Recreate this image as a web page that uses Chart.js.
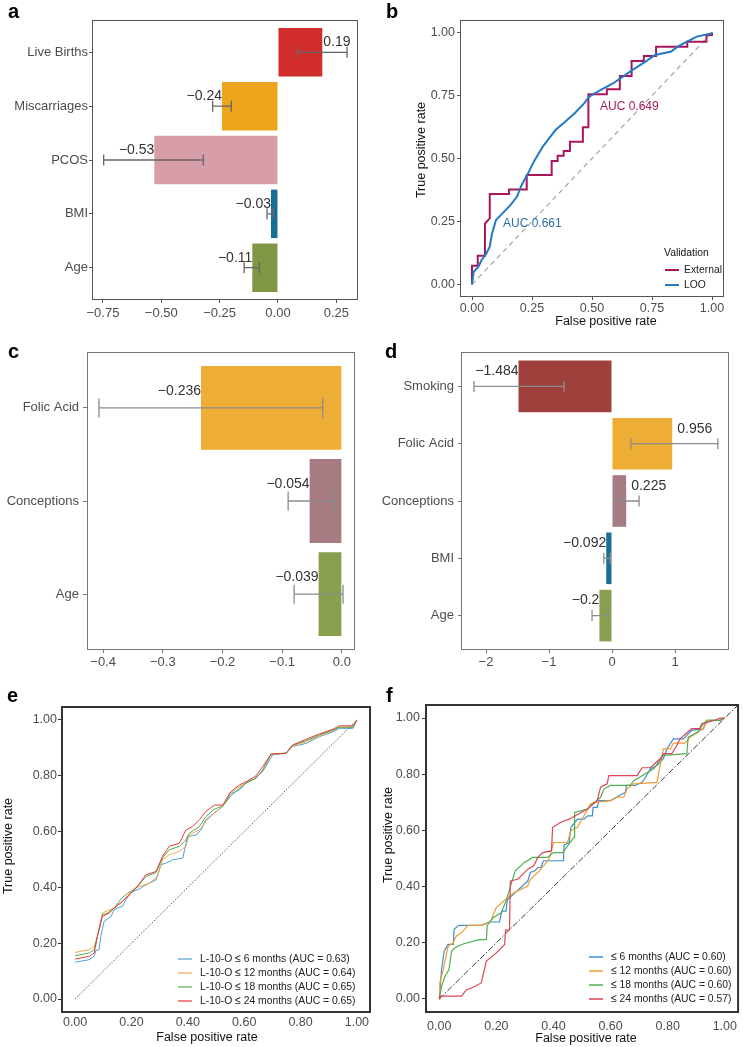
<!DOCTYPE html>
<html>
<head>
<meta charset="utf-8">
<script src="https://cdn.jsdelivr.net/npm/chart.js@4.4.1/dist/chart.umd.min.js"></script>
<style>
  body { margin: 0; background: #fff; }
  #page { position: relative; width: 743px; height: 1047px; overflow: hidden; font-family: "Liberation Sans", Arial, sans-serif; }
  canvas { position: absolute; }
  .tag { position: absolute; font-size: 20px; line-height: 20px; font-weight: bold; color: #000; }
</style>
</head>
<body>
<div id="page">
  <canvas id="chartA" width="372" height="330" style="left:0;top:0"></canvas>
  <canvas id="chartB" width="371" height="330" style="left:372px;top:0"></canvas>
  <canvas id="chartC" width="372" height="350" style="left:0;top:330px"></canvas>
  <canvas id="chartD" width="371" height="350" style="left:372px;top:330px"></canvas>
  <canvas id="chartE" width="372" height="367" style="left:0;top:680px"></canvas>
  <canvas id="chartF" width="371" height="367" style="left:372px;top:680px"></canvas>
  <div class="tag" style="left:8px;top:1px">a</div>
  <div class="tag" style="left:386px;top:1px">b</div>
  <div class="tag" style="left:8px;top:341px">c</div>
  <div class="tag" style="left:385px;top:341px">d</div>
  <div class="tag" style="left:7px;top:685px">e</div>
  <div class="tag" style="left:386px;top:685px">f</div>
</div>
<script>
// panel a: coefficients
const aCats = ['Live Births', 'Miscarriages', 'PCOS', 'BMI', 'Age'];
const aVals = [0.19, -0.24, -0.53, -0.03, -0.11];
const aLo = [0.085, -0.28, -0.747, -0.047, -0.145];
const aHi = [0.296, -0.2, -0.32, -0.02, -0.08];
const aColors = ['#D22D2D', '#EEA51E', '#D79EAA', '#176E96', '#7F9644'];
const aTicks = [-0.75, -0.5, -0.25, 0, 0.25];

// panel b: ROC, external vs leave-one-out
const extFpr = [0, 0, 0.024, 0.024, 0.054, 0.054, 0.074, 0.074, 0.154, 0.154, 0.228, 0.228, 0.332, 0.332, 0.357, 0.357, 0.382, 0.382, 0.408, 0.408, 0.462, 0.462, 0.485, 0.485, 0.562, 0.562, 0.616, 0.616, 0.665, 0.665, 0.716, 0.716, 0.767, 0.767, 0.897, 0.897, 0.977, 0.977, 1, 1];
const extTpr = [0, 0.074, 0.074, 0.114, 0.114, 0.242, 0.262, 0.359, 0.359, 0.377, 0.377, 0.434, 0.434, 0.49, 0.49, 0.511, 0.511, 0.53, 0.53, 0.567, 0.567, 0.624, 0.624, 0.755, 0.755, 0.775, 0.775, 0.828, 0.828, 0.887, 0.887, 0.907, 0.907, 0.944, 0.944, 0.964, 0.964, 0.99, 0.99, 1];
const looFpr = [0, 0.007, 0.027, 0.04, 0.06, 0.074, 0.083, 0.1, 0.127, 0.16, 0.187, 0.207, 0.234, 0.254, 0.274, 0.295, 0.321, 0.348, 0.388, 0.428, 0.468, 0.489, 0.535, 0.589, 0.629, 0.669, 0.723, 0.763, 0.83, 0.857, 0.91, 0.937, 1];
const looTpr = [0, 0.05, 0.07, 0.097, 0.123, 0.15, 0.2, 0.256, 0.282, 0.315, 0.348, 0.395, 0.441, 0.481, 0.514, 0.547, 0.58, 0.613, 0.646, 0.68, 0.72, 0.746, 0.772, 0.799, 0.825, 0.852, 0.885, 0.911, 0.925, 0.944, 0.971, 0.984, 0.997];

// panel c
const cCats = ['Folic Acid', 'Conceptions', 'Age'];
const cVals = [-0.236, -0.054, -0.039];
const cLo = [-0.407, -0.09, -0.08];
const cHi = [-0.032, -0.012, 0.002];
const cColors = ['#EEAD35', '#A67B82', '#889F50'];
const cTicks = [-0.4, -0.3, -0.2, -0.1, 0];

// panel d
const dCats = ['Smoking', 'Folic Acid', 'Conceptions', 'BMI', 'Age'];
const dVals = [-1.484, 0.956, 0.225, -0.092, -0.2];
const dLo = [-2.19, 0.3, 0.05, -0.13, -0.317];
const dHi = [-0.76, 1.68, 0.43, -0.027, -0.063];
const dColors = ['#9E403B', '#EEAD35', '#A67B82', '#1F6F95', '#889F50'];
const dTicks = [-2, -1, 0, 1];

// panel e: L-10-O ROC curves
const e6Fpr = [0, 0.05, 0.068, 0.073, 0.085, 0.091, 0.103, 0.127, 0.139, 0.15, 0.168, 0.18, 0.192, 0.204, 0.227, 0.251, 0.287, 0.304, 0.322, 0.346, 0.382, 0.399, 0.429, 0.447, 0.464, 0.5, 0.524, 0.553, 0.583, 0.606, 0.63, 0.666, 0.701, 0.749, 0.772, 0.82, 0.867, 0.915, 0.938, 0.986, 1];
const e6Tpr = [0.132, 0.141, 0.153, 0.173, 0.177, 0.224, 0.278, 0.296, 0.32, 0.326, 0.332, 0.356, 0.373, 0.385, 0.394, 0.409, 0.427, 0.481, 0.487, 0.499, 0.505, 0.582, 0.588, 0.606, 0.642, 0.672, 0.69, 0.737, 0.749, 0.773, 0.785, 0.815, 0.875, 0.881, 0.905, 0.916, 0.94, 0.958, 0.97, 0.97, 1];
const e12Fpr = [0, 0.05, 0.068, 0.079, 0.097, 0.115, 0.139, 0.156, 0.18, 0.204, 0.227, 0.263, 0.293, 0.31, 0.334, 0.37, 0.393, 0.405, 0.441, 0.464, 0.494, 0.524, 0.547, 0.583, 0.613, 0.642, 0.666, 0.695, 0.749, 0.772, 0.82, 0.867, 0.915, 0.938, 0.986, 1];
const e12Tpr = [0.167, 0.177, 0.189, 0.224, 0.308, 0.317, 0.326, 0.338, 0.362, 0.391, 0.403, 0.415, 0.439, 0.499, 0.517, 0.529, 0.547, 0.588, 0.606, 0.636, 0.666, 0.69, 0.737, 0.761, 0.779, 0.791, 0.821, 0.875, 0.881, 0.907, 0.922, 0.943, 0.961, 0.974, 0.974, 1];
const e18Fpr = [0, 0.05, 0.068, 0.079, 0.097, 0.115, 0.139, 0.162, 0.186, 0.204, 0.227, 0.251, 0.287, 0.31, 0.334, 0.37, 0.393, 0.405, 0.441, 0.464, 0.494, 0.524, 0.553, 0.583, 0.613, 0.642, 0.666, 0.695, 0.749, 0.772, 0.82, 0.867, 0.915, 0.938, 0.986, 1];
const e18Tpr = [0.155, 0.165, 0.177, 0.224, 0.302, 0.308, 0.326, 0.358, 0.379, 0.389, 0.409, 0.439, 0.453, 0.505, 0.535, 0.547, 0.57, 0.594, 0.618, 0.654, 0.68, 0.692, 0.728, 0.755, 0.779, 0.791, 0.821, 0.878, 0.881, 0.91, 0.926, 0.946, 0.964, 0.974, 0.974, 1];
const e24Fpr = [0, 0.05, 0.068, 0.079, 0.097, 0.121, 0.145, 0.168, 0.192, 0.216, 0.251, 0.287, 0.31, 0.334, 0.37, 0.393, 0.417, 0.441, 0.464, 0.494, 0.524, 0.553, 0.583, 0.613, 0.642, 0.666, 0.695, 0.749, 0.772, 0.82, 0.867, 0.915, 0.938, 0.986, 1];
const e24Tpr = [0.143, 0.153, 0.165, 0.224, 0.296, 0.308, 0.332, 0.35, 0.373, 0.397, 0.445, 0.457, 0.511, 0.547, 0.558, 0.606, 0.618, 0.642, 0.672, 0.695, 0.695, 0.743, 0.767, 0.782, 0.8, 0.833, 0.878, 0.881, 0.91, 0.931, 0.95, 0.967, 0.979, 0.979, 1];

// panel f
const f6Fpr = [0, 0.008, 0.017, 0.031, 0.049, 0.052, 0.068, 0.147, 0.176, 0.211, 0.219, 0.234, 0.238, 0.31, 0.319, 0.335, 0.345, 0.356, 0.365, 0.435, 0.437, 0.455, 0.461, 0.484, 0.507, 0.519, 0.536, 0.539, 0.553, 0.559, 0.6, 0.652, 0.656, 0.687, 0.71, 0.719, 0.739, 0.762, 0.785, 0.797, 0.82, 0.855, 0.884, 0.925, 0.936, 0.983, 1];
const f6Tpr = [0, 0.105, 0.17, 0.194, 0.194, 0.248, 0.262, 0.262, 0.274, 0.274, 0.313, 0.313, 0.352, 0.42, 0.45, 0.456, 0.468, 0.468, 0.492, 0.492, 0.548, 0.557, 0.611, 0.64, 0.64, 0.652, 0.652, 0.682, 0.682, 0.706, 0.706, 0.736, 0.76, 0.76, 0.771, 0.783, 0.819, 0.831, 0.855, 0.89, 0.926, 0.926, 0.956, 0.962, 0.992, 0.992, 1];
const f12Fpr = [0, 0.002, 0.014, 0.031, 0.049, 0.06, 0.078, 0.101, 0.147, 0.18, 0.188, 0.2, 0.24, 0.263, 0.31, 0.319, 0.345, 0.385, 0.4, 0.449, 0.461, 0.484, 0.507, 0.53, 0.542, 0.6, 0.623, 0.646, 0.658, 0.681, 0.762, 0.785, 0.809, 0.82, 0.861, 0.878, 0.907, 0.925, 0.936, 0.983, 1];
const f12Tpr = [0, 0.057, 0.105, 0.188, 0.2, 0.224, 0.236, 0.262, 0.262, 0.274, 0.298, 0.325, 0.361, 0.379, 0.402, 0.426, 0.45, 0.498, 0.557, 0.557, 0.599, 0.611, 0.652, 0.694, 0.7, 0.706, 0.718, 0.718, 0.748, 0.766, 0.771, 0.89, 0.89, 0.911, 0.911, 0.932, 0.952, 0.962, 0.992, 0.992, 1];
const f18Fpr = [0, 0.008, 0.02, 0.034, 0.043, 0.055, 0.078, 0.136, 0.165, 0.168, 0.188, 0.217, 0.234, 0.266, 0.298, 0.327, 0.379, 0.4, 0.432, 0.472, 0.474, 0.519, 0.53, 0.565, 0.577, 0.6, 0.669, 0.681, 0.751, 0.785, 0.867, 0.872, 0.907, 0.919, 0.948, 0.983, 1];
const f18Tpr = [0, 0.045, 0.081, 0.105, 0.17, 0.182, 0.194, 0.21, 0.212, 0.262, 0.289, 0.307, 0.349, 0.456, 0.486, 0.504, 0.504, 0.521, 0.521, 0.575, 0.664, 0.676, 0.688, 0.718, 0.748, 0.76, 0.76, 0.777, 0.819, 0.867, 0.873, 0.932, 0.95, 0.98, 0.992, 0.992, 1];
const f24Fpr = [0, 0.002, 0.078, 0.095, 0.113, 0.147, 0.165, 0.2, 0.229, 0.232, 0.246, 0.249, 0.275, 0.31, 0.331, 0.345, 0.362, 0.393, 0.397, 0.426, 0.455, 0.519, 0.553, 0.565, 0.588, 0.594, 0.693, 0.71, 0.739, 0.774, 0.785, 0.814, 0.832, 0.843, 0.884, 0.913, 0.925, 0.965, 0.983, 1];
const f24Tpr = [0, 0.01, 0.01, 0.033, 0.039, 0.057, 0.135, 0.164, 0.194, 0.245, 0.245, 0.42, 0.426, 0.462, 0.474, 0.504, 0.521, 0.527, 0.611, 0.629, 0.64, 0.676, 0.706, 0.754, 0.766, 0.795, 0.795, 0.823, 0.823, 0.855, 0.873, 0.873, 0.902, 0.926, 0.962, 0.962, 0.98, 0.992, 1, 1];

const rocTicks = [0, 0.25, 0.5, 0.75, 1];
const rocTicks5 = [0, 0.2, 0.4, 0.6, 0.8, 1];

Chart.defaults.font.family = '"Liberation Sans", Arial, sans-serif';
Chart.defaults.font.size = 13;
Chart.defaults.color = '#4d4d4d';
Chart.defaults.plugins.legend.display = false;
Chart.defaults.plugins.tooltip.enabled = false;

const FONT = '"Liberation Sans", Arial, sans-serif';
const minus = s => String(s).replace('-', '\u2212');

// border round the panel
const frame = (color, width) => ({
  id: 'frame',
  afterDraw(chart) {
    const { ctx, chartArea: a } = chart;
    const h = width / 2;
    ctx.save();
    ctx.strokeStyle = color;
    ctx.lineWidth = width;
    ctx.strokeRect(a.left + h, a.top + h, a.right - a.left - width, a.bottom - a.top - width);
    ctx.restore();
  }
});

const errbars = (lo, hi, cap, color) => ({
  id: 'errbars',
  afterDatasetsDraw(chart) {
    const { ctx, scales: { x, y } } = chart;
    ctx.save();
    ctx.strokeStyle = color;
    ctx.lineWidth = 1.3;
    lo.forEach((l, i) => {
      const py = y.getPixelForValue(i + 1);
      const x0 = x.getPixelForValue(l);
      const x1 = x.getPixelForValue(hi[i]);
      ctx.beginPath();
      ctx.moveTo(x0, py); ctx.lineTo(x1, py);
      ctx.moveTo(x0, py - cap / 2); ctx.lineTo(x0, py + cap / 2);
      ctx.moveTo(x1, py - cap / 2); ctx.lineTo(x1, py + cap / 2);
      ctx.stroke();
    });
    ctx.restore();
  }
});

const valueLabels = (vals, dy, gap) => ({
  id: 'valueLabels',
  afterDatasetsDraw(chart) {
    const { ctx, scales: { x, y } } = chart;
    ctx.save();
    ctx.font = '14px ' + FONT;
    ctx.fillStyle = '#333';
    ctx.textBaseline = 'middle';
    vals.forEach((v, i) => {
      const px = x.getPixelForValue(v);
      ctx.textAlign = v < 0 ? 'right' : 'left';
      ctx.fillText(minus(v), v < 0 ? px : px + gap, y.getPixelForValue(i + 1) + dy);
    });
    ctx.restore();
  }
});

// free text; sx squeezes it a little, the original face is narrower
const texts = items => ({
  id: 'texts',
  afterDraw(chart) {
    const ctx = chart.ctx;
    items.forEach(t => {
      ctx.save();
      ctx.font = (t.size || 12.5) + 'px ' + FONT;
      ctx.fillStyle = t.color || '#111';
      ctx.textAlign = t.align || 'center';
      ctx.textBaseline = 'middle';
      ctx.translate(t.x, t.y);
      if (t.rot) ctx.rotate(-Math.PI / 2);
      if (t.sx) ctx.scale(t.sx, 1);
      ctx.fillText(t.text, 0, 0);
      ctx.restore();
    });
  }
});

const lineLegend = (x, y, step, len, gap, lw, size) => ({
  id: 'lineLegend',
  afterDraw(chart) {
    const ctx = chart.ctx;
    ctx.save();
    ctx.font = size + 'px ' + FONT;
    ctx.textBaseline = 'middle';
    ctx.textAlign = 'left';
    chart.data.datasets.filter(d => d.label).forEach((d, k) => {
      const yy = y + k * step;
      ctx.strokeStyle = d.borderColor;
      ctx.lineWidth = lw;
      ctx.beginPath(); ctx.moveTo(x, yy); ctx.lineTo(x + len, yy); ctx.stroke();
      ctx.save();
      ctx.translate(x + len + gap, yy);
      ctx.scale(0.9, 1);
      ctx.fillStyle = '#222';
      ctx.fillText(d.label, 0, 0);
      ctx.restore();
    });
    ctx.restore();
  }
});

function barChart(id, cats, vals, lo, hi, colors, o) {
  return new Chart(document.getElementById(id), {
    type: 'bar',
    data: {
      datasets: [{
        data: vals.map((v, i) => ({ x: v, y: i + 1 })),
        backgroundColor: colors,
        barPercentage: 0.9,
        categoryPercentage: 1
      }]
    },
    options: {
      indexAxis: 'y',
      responsive: false,
      animation: false,
      devicePixelRatio: 1,
      layout: { padding: o.pad },
      scales: {
        x: {
          type: 'linear', min: o.min, max: o.max,
          afterBuildTicks: s => { s.ticks = o.ticks.map(v => ({ value: v })); },
          afterFit: s => { s.height = o.xh; },
          ticks: { callback: o.fmt, padding: o.xpad, autoSkip: false },
          grid: { drawOnChartArea: false, tickLength: 3, color: o.frame },
          border: { display: false }
        },
        y: {
          type: 'linear', reverse: true, min: 0.4, max: cats.length + 0.6, offset: false,
          afterBuildTicks: s => { s.ticks = cats.map((c, i) => ({ value: i + 1 })); },
          afterFit: s => { s.width = o.yw; },
          ticks: { callback: v => cats[v - 1], padding: o.ypad, autoSkip: false },
          grid: { offset: false, drawOnChartArea: false, tickLength: o.ytl, color: o.frame },
          border: { display: false }
        }
      }
    },
    plugins: [errbars(lo, hi, o.cap, o.err), valueLabels(vals, o.dy, o.gap), frame(o.frame, 1)]
  });
}

function rocChart(id, series, o) {
  const datasets = series.map((s, k) => ({
    label: s.label,
    data: s.fpr.map((f, i) => ({ x: f, y: s.tpr[i] })),
    borderColor: s.color,
    borderWidth: o.lw,
    pointRadius: 0,
    tension: 0,
    order: series.length - k
  }));
  datasets.push({
    data: o.diag.map(v => ({ x: v, y: v })),
    borderColor: o.diagColor, borderWidth: o.diagWidth, borderDash: o.dash,
    pointRadius: 0, order: 99
  });
  const fmt = v => v.toFixed(2);
  return new Chart(document.getElementById(id), {
    type: 'line',
    data: { datasets },
    options: {
      responsive: false,
      animation: false,
      devicePixelRatio: 1,
      layout: { padding: o.pad },
      scales: {
        x: {
          type: 'linear', min: -0.05, max: 1.05,
          afterBuildTicks: s => { s.ticks = o.ticks.map(v => ({ value: v })); },
          afterFit: s => { s.height = o.xh; },
          ticks: { callback: fmt, padding: o.xpad, autoSkip: false, maxRotation: 0, font: { size: 12.5 } },
          grid: { drawOnChartArea: false, drawTicks: o.xtl > 0, tickLength: o.xtl, color: o.frame },
          border: { display: false }
        },
        y: {
          type: 'linear', min: -0.05, max: 1.05,
          afterBuildTicks: s => { s.ticks = o.ticks.map(v => ({ value: v })); },
          afterFit: s => { s.width = o.yw; },
          ticks: { callback: fmt, padding: o.ypad, autoSkip: false, font: { size: 12.5 } },
          grid: { drawOnChartArea: false, tickLength: o.ytl, color: o.frame },
          border: { display: false }
        }
      }
    },
    plugins: [frame(o.frame, o.frameW), texts(o.texts), o.legend]
  });
}

barChart('chartA', aCats, aVals, aLo, aHi, aColors, {
  pad: { top: 20, right: 14, left: 0, bottom: 0 }, min: -0.797, max: 0.343, ticks: aTicks,
  fmt: v => minus(v.toFixed(2)), xh: 30, yw: 92, xpad: 3, ypad: 1, ytl: 3,
  frame: '#555', cap: 11, err: '#666', dy: -10, gap: 1
});

barChart('chartC', cCats, cVals, cLo, cHi, cColors, {
  pad: { top: 22, right: 17, left: 0, bottom: 0 }, min: -0.427, max: 0.022, ticks: cTicks,
  fmt: v => minus(v.toFixed(1)), xh: 30, yw: 87, xpad: 2, ypad: 4, ytl: 4,
  frame: '#777', cap: 19, err: '#8c8c8c', dy: -17, gap: 2
});

barChart('chartD', dCats, dVals, dLo, dHi, dColors, {
  pad: { top: 22, right: 14, left: 0, bottom: 0 }, min: -2.397, max: 1.857, ticks: dTicks,
  fmt: v => minus(v), xh: 30, yw: 89, xpad: 2, ypad: 4, ytl: 3,
  frame: '#777', cap: 11, err: '#8c8c8c', dy: -15, gap: 5
});

rocChart('chartB', [
  { label: 'External', fpr: extFpr, tpr: extTpr, color: '#A8175E' },
  { label: 'LOO', fpr: looFpr, tpr: looTpr, color: '#2479C4' }
], {
  pad: { top: 20, right: 19, left: 0, bottom: 0 }, yw: 88, xh: 33, ticks: rocTicks,
  xtl: 3, xpad: 1, ytl: 3, ypad: 2, frame: '#555', frameW: 1, lw: 2,
  diag: [0, 1], diagColor: '#AAAAAA', diagWidth: 1.3, dash: [5, 4],
  texts: [
    { text: 'True positive rate', x: 50, y: 150, rot: true },
    { text: 'False positive rate', x: 234, y: 322 },
    { text: 'AUC 0.649', x: 228, y: 107, size: 12, align: 'left', color: '#A8195D' },
    { text: 'AUC 0.661', x: 131, y: 224, size: 12, align: 'left', color: '#2B6EA8' },
    { text: 'Validation', x: 292, y: 253, size: 11.5, sx: 0.9, align: 'left' }
  ],
  legend: lineLegend(293, 270, 15, 14, 5, 2, 11.5)
});

rocChart('chartE', [
  { label: 'L-10-O \u2264 6 months (AUC = 0.63)', fpr: e6Fpr, tpr: e6Tpr, color: '#4F9ED8' },
  { label: 'L-10-O \u2264 12 months (AUC = 0.64)', fpr: e12Fpr, tpr: e12Tpr, color: '#F7A650' },
  { label: 'L-10-O \u2264 18 months (AUC = 0.65)', fpr: e18Fpr, tpr: e18Tpr, color: '#4DB04F' },
  { label: 'L-10-O \u2264 24 months (AUC = 0.65)', fpr: e24Fpr, tpr: e24Tpr, color: '#E63B3B' }
], {
  pad: { top: 26, right: 1, left: 0, bottom: 0 }, yw: 61, xh: 34, ticks: rocTicks5,
  xtl: 0, xpad: 2, ytl: 3, ypad: 1, frame: '#333', frameW: 2, lw: 1,
  diag: [0, 1], diagColor: '#333', diagWidth: 0.8, dash: [1.5, 1.5],
  texts: [
    { text: 'True positive rate', x: 9, y: 166, rot: true },
    { text: 'False positive rate', x: 207, y: 358 }
  ],
  legend: lineLegend(178, 279, 14, 14, 8, 1.2, 11.5)
});

rocChart('chartF', [
  { label: '\u2264 6 months (AUC = 0.60)', fpr: f6Fpr, tpr: f6Tpr, color: '#3C8ED0' },
  { label: '\u2264 12 months (AUC = 0.60)', fpr: f12Fpr, tpr: f12Tpr, color: '#F39B33' },
  { label: '\u2264 18 months (AUC = 0.60)', fpr: f18Fpr, tpr: f18Tpr, color: '#4EB04E' },
  { label: '\u2264 24 months (AUC = 0.57)', fpr: f24Fpr, tpr: f24Tpr, color: '#DC4556' }
], {
  pad: { top: 24, right: 1, left: 0, bottom: 0 }, yw: 53, xh: 34, ticks: rocTicks5,
  xtl: 0, xpad: 6, ytl: 3, ypad: 2, frame: '#333', frameW: 2, lw: 1.2,
  diag: [0, 1.06], diagColor: '#222', diagWidth: 0.9, dash: [6, 2, 1.5, 2],
  texts: [
    { text: 'True positive rate', x: 17, y: 155, rot: true },
    { text: 'False positive rate', x: 214, y: 359 }
  ],
  legend: lineLegend(217, 277, 14, 14, 8, 1.5, 11.5)
});
</script>
</body>
</html>
